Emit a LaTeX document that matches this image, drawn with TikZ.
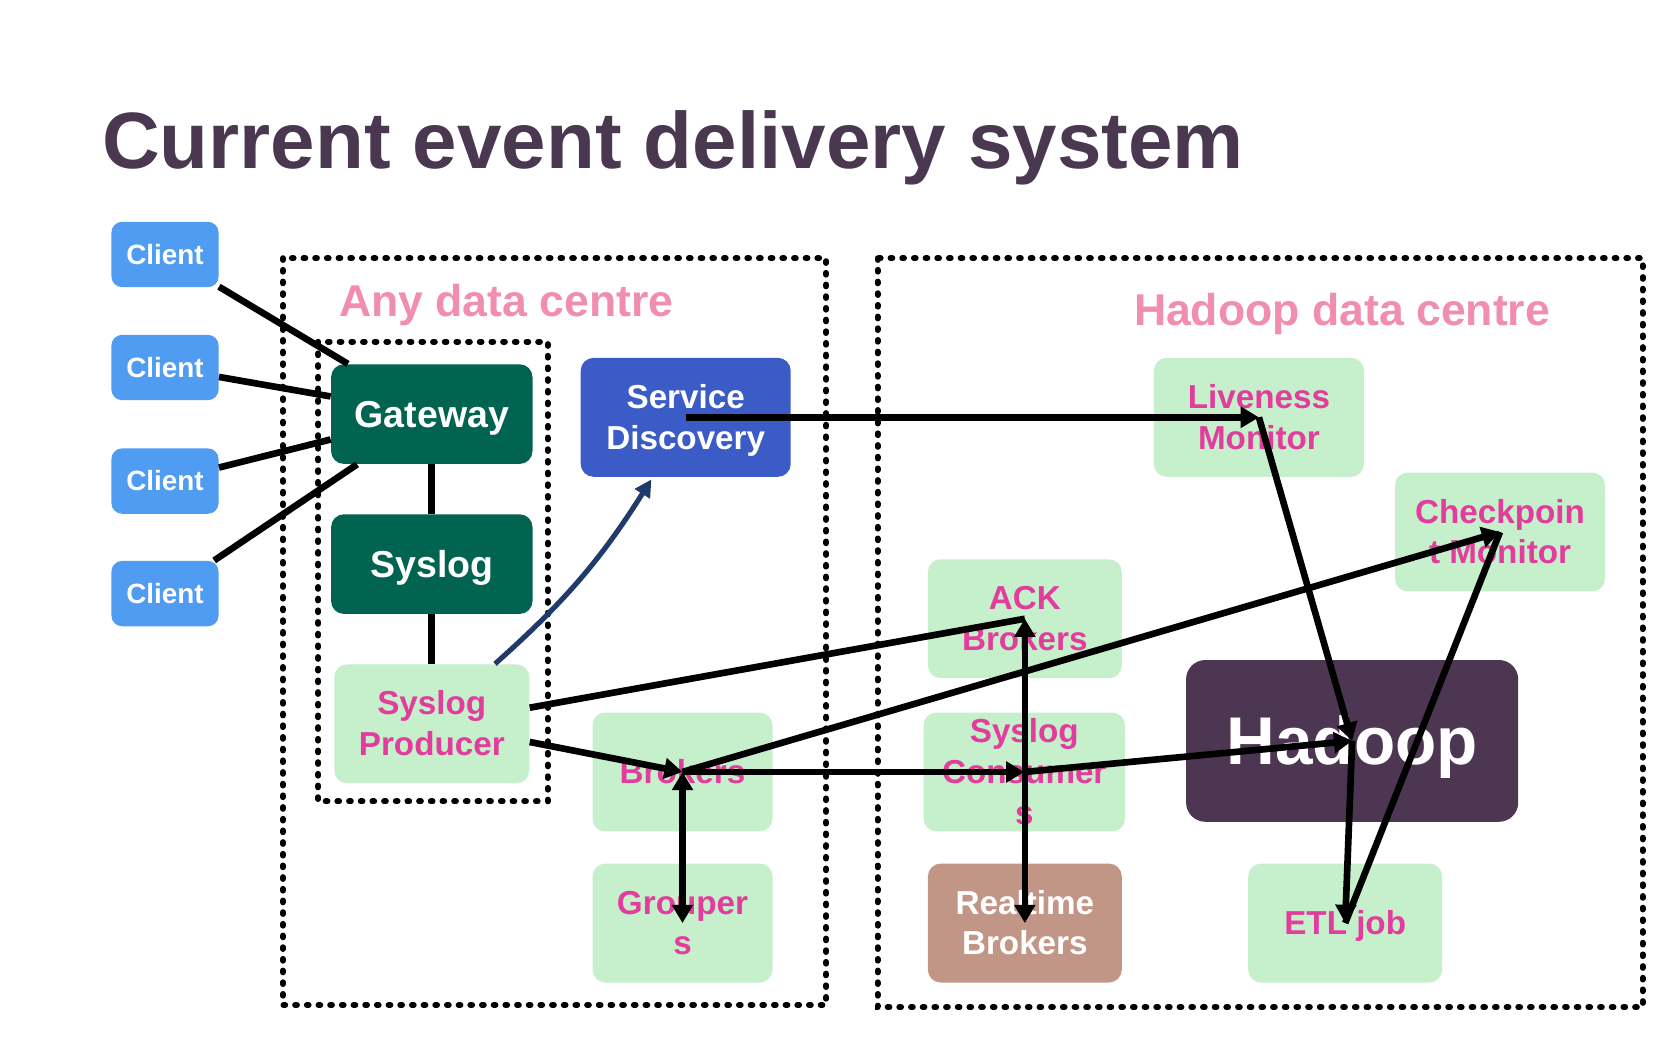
\documentclass[tikz,border=0pt]{standalone}
\usepackage{fontspec}
\setmainfont{Liberation Sans}
\usetikzlibrary{arrows.meta,calc}
\definecolor{titlecol}{HTML}{4A3850}
\definecolor{pinkhead}{HTML}{F28DB2}
\definecolor{clientblue}{HTML}{4F9CF2}
\definecolor{darkgreen}{HTML}{006450}
\definecolor{sdblue}{HTML}{3B5CC6}
\definecolor{lightgreen}{HTML}{C6EFCC}
\definecolor{magentatext}{HTML}{E23C9C}
\definecolor{hadoopcol}{HTML}{4D3651}
\definecolor{rtbrown}{HTML}{C29686}
\definecolor{navyarrow}{HTML}{1F3A6B}
\newcommand{\lnstrut}{\rule[-0.212em]{0pt}{1.117em}}
\tikzset{
  basebox/.style={rounded corners=6pt, inner sep=0pt, align=center, draw=none},
  cbox/.style={basebox, fill=clientblue, text=white, minimum width=50pt, minimum height=30.5pt, rounded corners=5pt, font=\bfseries\fontsize{13}{15}\selectfont},
  gbox/.style={basebox, fill=darkgreen, text=white, minimum width=94pt, minimum height=46.5pt, font=\bfseries\fontsize{17.5}{21}\selectfont},
  lbox/.style={basebox, fill=lightgreen, text=magentatext, minimum height=55.5pt, font=\bfseries\fontsize{15.5}{19}\selectfont},
  dotbox/.style={draw=black, line width=2.8pt, line cap=round, dash pattern=on 0.8pt off 4.65pt},
  ln/.style={draw=black, line width=3.1pt},
  arr/.style={ln, -{Triangle[length=8.5pt,width=9.5pt]}},
  arrboth/.style={ln, {Triangle[length=8.5pt,width=9.5pt]}-{Triangle[length=8.5pt,width=9.5pt]}},
  navyarr/.style={draw=navyarrow, line width=2.4pt, -{Triangle[length=8pt,width=8pt]}},
  headtext/.style={anchor=base west, inner sep=0pt, text=pinkhead, font=\bfseries\fontsize{20.8}{25}\selectfont}
}
\begin{document}
\begin{tikzpicture}[x=0.5pt,y=-0.5pt]
\useasboundingbox[fill=white] (0,0) rectangle (1568,980);

% title
\node[anchor=base west, inner sep=0pt, text=titlecol, font=\bfseries\fontsize{37.3}{44}\selectfont] (title) at (95,157) {Current event delivery system};

% dotted regions
\draw[dotbox] (264,241) rectangle (771,938);
\draw[dotbox] (297,319) rectangle (511,748);
\draw[dotbox] (819,241) rectangle (1533,940);
\node[headtext] (anydc) at (316,295) {Any data centre};
\node[headtext] (hadoopdc) at (1058,304) {Hadoop data centre};

% clients
\node[cbox] (c1) at (154,237.5) {\lnstrut Client};
\node[cbox] (c2) at (154,343) {\lnstrut Client};
\node[cbox] (c3) at (154,449) {\lnstrut Client};
\node[cbox] (c4) at (154,554) {\lnstrut Client};

% any data centre nodes
\node[gbox] (gw) at (403,386.5) {\lnstrut Gateway};
\node[gbox] (sys) at (403,526.5) {\lnstrut Syslog};
\node[lbox, minimum width=91pt] (sp) at (403,675.5) {\lnstrut Syslog\\\lnstrut Producer};
\node[basebox, fill=sdblue, text=white, minimum width=98pt, minimum height=55.5pt, font=\bfseries\fontsize{15.5}{19}\selectfont] (sd) at (640,389.5) {\lnstrut Service\\\lnstrut Discovery};
\node[lbox, minimum width=84pt] (br) at (637,720.5) {\lnstrut Brokers};
\node[lbox, minimum width=84pt] (gr) at (637,861.5) {\lnstrut Grouper\\\lnstrut s};

% hadoop data centre nodes
\node[lbox, minimum width=98pt] (lm) at (1175,389.5) {\lnstrut Liveness\\\lnstrut Monitor};
\node[lbox, minimum width=98pt] (cm) at (1400,496.5) {\lnstrut Checkpoin\\\lnstrut t Monitor};
\node[lbox, minimum width=90.5pt] (ack) at (956.5,577.5) {\lnstrut ACK\\\lnstrut Brokers};
\node[lbox, minimum width=94pt] (sc) at (956,720.5) {\lnstrut Syslog\\\lnstrut Consumer\\\lnstrut s};
\node[basebox, fill=rtbrown, text=white, minimum width=90.5pt, minimum height=55.5pt, font=\bfseries\fontsize{15.5}{19}\selectfont] (rt) at (956.5,861.5) {\lnstrut Realtime\\\lnstrut Brokers};
\node[basebox, fill=hadoopcol, text=white, minimum width=155pt, minimum height=75.5pt, rounded corners=9pt, font=\bfseries\fontsize{31.5}{36}\selectfont] (hd) at (1262,691.5) {\lnstrut Hadoop};
\node[lbox, minimum width=90.5pt] (etl) at (1255.5,861.5) {\lnstrut ETL job};

% connectors
\draw[ln] (c1) -- (gw);
\draw[ln] (c2) -- (gw);
\draw[ln] (c3) -- (gw);
\draw[ln] (c4) -- (gw);
\draw[ln] (gw) -- (sys);
\draw[ln] (sys) -- (sp);
\draw[navyarr] ([xshift=29.5pt]sp.north) to[bend right=8] ([xshift=-16pt,yshift=-1pt]sd.south);
\draw[arr] (sd.center) -- (lm.center);
\draw[arr] (lm.center) -- (hd.center);
\draw[ln] ([yshift=7.5pt]sp.east) -- (ack.center);
\draw[arrboth] (ack.center) -- (rt.center);
\draw[arr] ([yshift=-8.5pt]sp.east) -- (br.center);
\draw[arr] (br.center) -- (cm.center);
\draw[arr] (br.center) -- (sc.center);
\draw[arr] (sc.center) -- (hd.center);
\draw[arrboth] (br.center) -- (gr.center);
\draw[arr] (hd.center) -- (etl.center);
\draw[ln] (etl.center) -- (cm.center);
\end{tikzpicture}
\end{document}
